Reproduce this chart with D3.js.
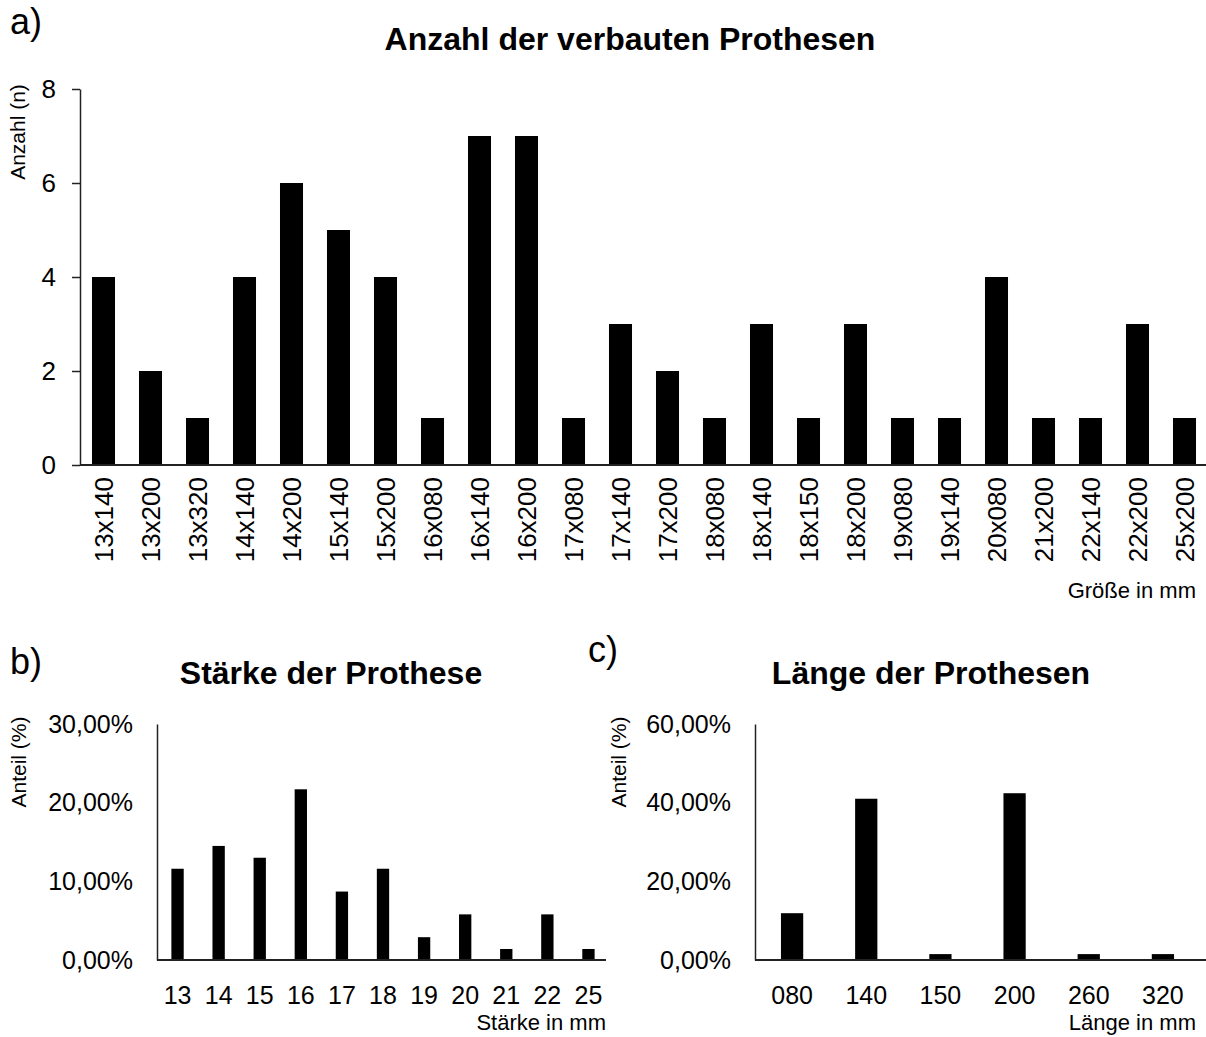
<!DOCTYPE html>
<html>
<head>
<meta charset="utf-8">
<script src="https://cdn.jsdelivr.net/npm/d3@7"></script>
<style>
  body { margin: 0; background: #fff; }
  text { font-family: "Liberation Sans", Arial, sans-serif; fill: #000; }
</style>
</head>
<body>
<div id="chart"></div>
<script>
// Panel a: number of implanted prostheses per size
const sizes = ["13x140", "13x200", "13x320", "14x140", "14x200", "15x140", "15x200", "16x080",
               "16x140", "16x200", "17x080", "17x140", "17x200", "18x080", "18x140", "18x150",
               "18x200", "19x080", "19x140", "20x080", "21x200", "22x140", "22x200", "25x200"];
const sizeCounts = [4, 2, 1, 4, 6, 5, 4, 1, 7, 7, 1, 3, 2, 1, 3, 1, 3, 1, 1, 4, 1, 1, 3, 1];
const countTicks = [0, 2, 4, 6, 8];

// Panel b: share per diameter
const diameters = ["13", "14", "15", "16", "17", "18", "19", "20", "21", "22", "25"];
const diameterShare = [11.6, 14.5, 13.0, 21.7, 8.7, 11.6, 2.9, 5.8, 1.4, 5.8, 1.4];
const diameterTicks = [0, 10, 20, 30];

// Panel c: share per length
const lengths = ["080", "140", "150", "200", "260", "320"];
const lengthShare = [11.9, 41.0, 1.5, 42.4, 1.5, 1.5];
const lengthTicks = [0, 20, 40, 60];

const width = 1206, height = 1037;

const svg = d3.select("#chart")
  .append("svg")
  .attr("width", width)
  .attr("height", height);

const pct = d => d3.format(".2f")(d).replace(".", ",") + "%";

function drawPanel(opt) {
  const g = svg.append("g");

  const x = d3.scaleBand()
    .domain(opt.cats)
    .range([opt.x0, opt.x1])
    .paddingInner(opt.pad)
    .paddingOuter(opt.pad / 2);

  const y = d3.scaleLinear()
    .domain([0, d3.max(opt.ticks)])
    .range([opt.y0, opt.y1]);

  // bars
  g.selectAll("rect")
    .data(opt.values)
    .enter().append("rect")
    .attr("x", (d, i) => x(opt.cats[i]))
    .attr("y", d => y(d))
    .attr("width", x.bandwidth())
    .attr("height", d => opt.y0 - y(d))
    .attr("fill", "#000");

  // y axis
  const yAxis = g.append("g")
    .attr("transform", `translate(${opt.x0},0)`)
    .call(d3.axisLeft(y).tickValues(opt.ticks).tickFormat(opt.fmt)
      .tickSizeOuter(0).tickSizeInner(opt.yTick).tickPadding(opt.yPad));
  yAxis.select(".domain").attr("stroke", "#222").attr("stroke-width", 1.5);
  yAxis.selectAll(".tick line").attr("stroke", "#222").attr("stroke-width", 1.5);
  yAxis.selectAll("text").attr("font-size", opt.tickFont).attr("font-family", "Liberation Sans, Arial, sans-serif");

  // x axis
  const xAxis = g.append("g")
    .attr("transform", `translate(0,${opt.y0})`)
    .call(d3.axisBottom(x).tickSize(0).tickPadding(opt.xPad));
  xAxis.select(".domain")
    .attr("d", `M${opt.x0},0H${opt.xEnd}`)
    .attr("stroke", "#222").attr("stroke-width", 2);
  xAxis.selectAll("text").attr("font-size", opt.tickFont).attr("font-family", "Liberation Sans, Arial, sans-serif");
  if (opt.rotate) {
    xAxis.selectAll("text")
      .attr("transform", "rotate(-90)")
      .attr("text-anchor", "end")
      .attr("dy", "0.35em")
      .attr("x", -opt.xPad)
      .attr("y", 0);
  }

  // panel letter
  g.append("text")
    .attr("x", opt.letterX).attr("y", opt.letterY)
    .attr("font-size", 36)
    .text(opt.letter);

  // title
  g.append("text")
    .attr("x", opt.titleX).attr("y", opt.titleY)
    .attr("text-anchor", "middle")
    .attr("font-size", 32).attr("font-weight", "bold")
    .text(opt.title);

  // y axis label
  g.append("text")
    .attr("transform", `translate(${opt.yLabelX},${opt.yLabelY}) rotate(-90)`)
    .attr("text-anchor", "middle")
    .attr("font-size", 21)
    .text(opt.yLabel);

  // x axis label
  g.append("text")
    .attr("x", opt.xLabelX).attr("y", opt.xLabelY)
    .attr("text-anchor", "end")
    .attr("font-size", 22)
    .text(opt.xLabel);
}

drawPanel({
  cats: sizes, values: sizeCounts, ticks: countTicks, fmt: d3.format("d"),
  x0: 80, x1: 1208, xEnd: 1206, y0: 465, y1: 89, pad: 0.51,
  yTick: 8, yPad: 16, xPad: 12, tickFont: 26, rotate: true,
  letter: "a)", letterX: 10, letterY: 34,
  title: "Anzahl der verbauten Prothesen", titleX: 630, titleY: 50,
  yLabel: "Anzahl (n)", yLabelX: 25, yLabelY: 132,
  xLabel: "Größe in mm", xLabelX: 1196, xLabelY: 598
});

drawPanel({
  cats: diameters, values: diameterShare, ticks: diameterTicks, fmt: pct,
  x0: 157, x1: 609, xEnd: 606, y0: 960, y1: 724, pad: 0.7,
  yTick: 0, yPad: 24, xPad: 26, tickFont: 25, rotate: false,
  letter: "b)", letterX: 10, letterY: 674,
  title: "Stärke der Prothese", titleX: 331, titleY: 684,
  yLabel: "Anteil (%)", yLabelX: 26, yLabelY: 762,
  xLabel: "Stärke in mm", xLabelX: 606, xLabelY: 1030
});

drawPanel({
  cats: lengths, values: lengthShare, ticks: lengthTicks, fmt: pct,
  x0: 755, x1: 1200, xEnd: 1206, y0: 960, y1: 724, pad: 0.7,
  yTick: 0, yPad: 24, xPad: 26, tickFont: 25, rotate: false,
  letter: "c)", letterX: 588, letterY: 662,
  title: "Länge der Prothesen", titleX: 931, titleY: 684,
  yLabel: "Anteil (%)", yLabelX: 626, yLabelY: 762,
  xLabel: "Länge in mm", xLabelX: 1196, xLabelY: 1030
});
</script>
</body>
</html>
